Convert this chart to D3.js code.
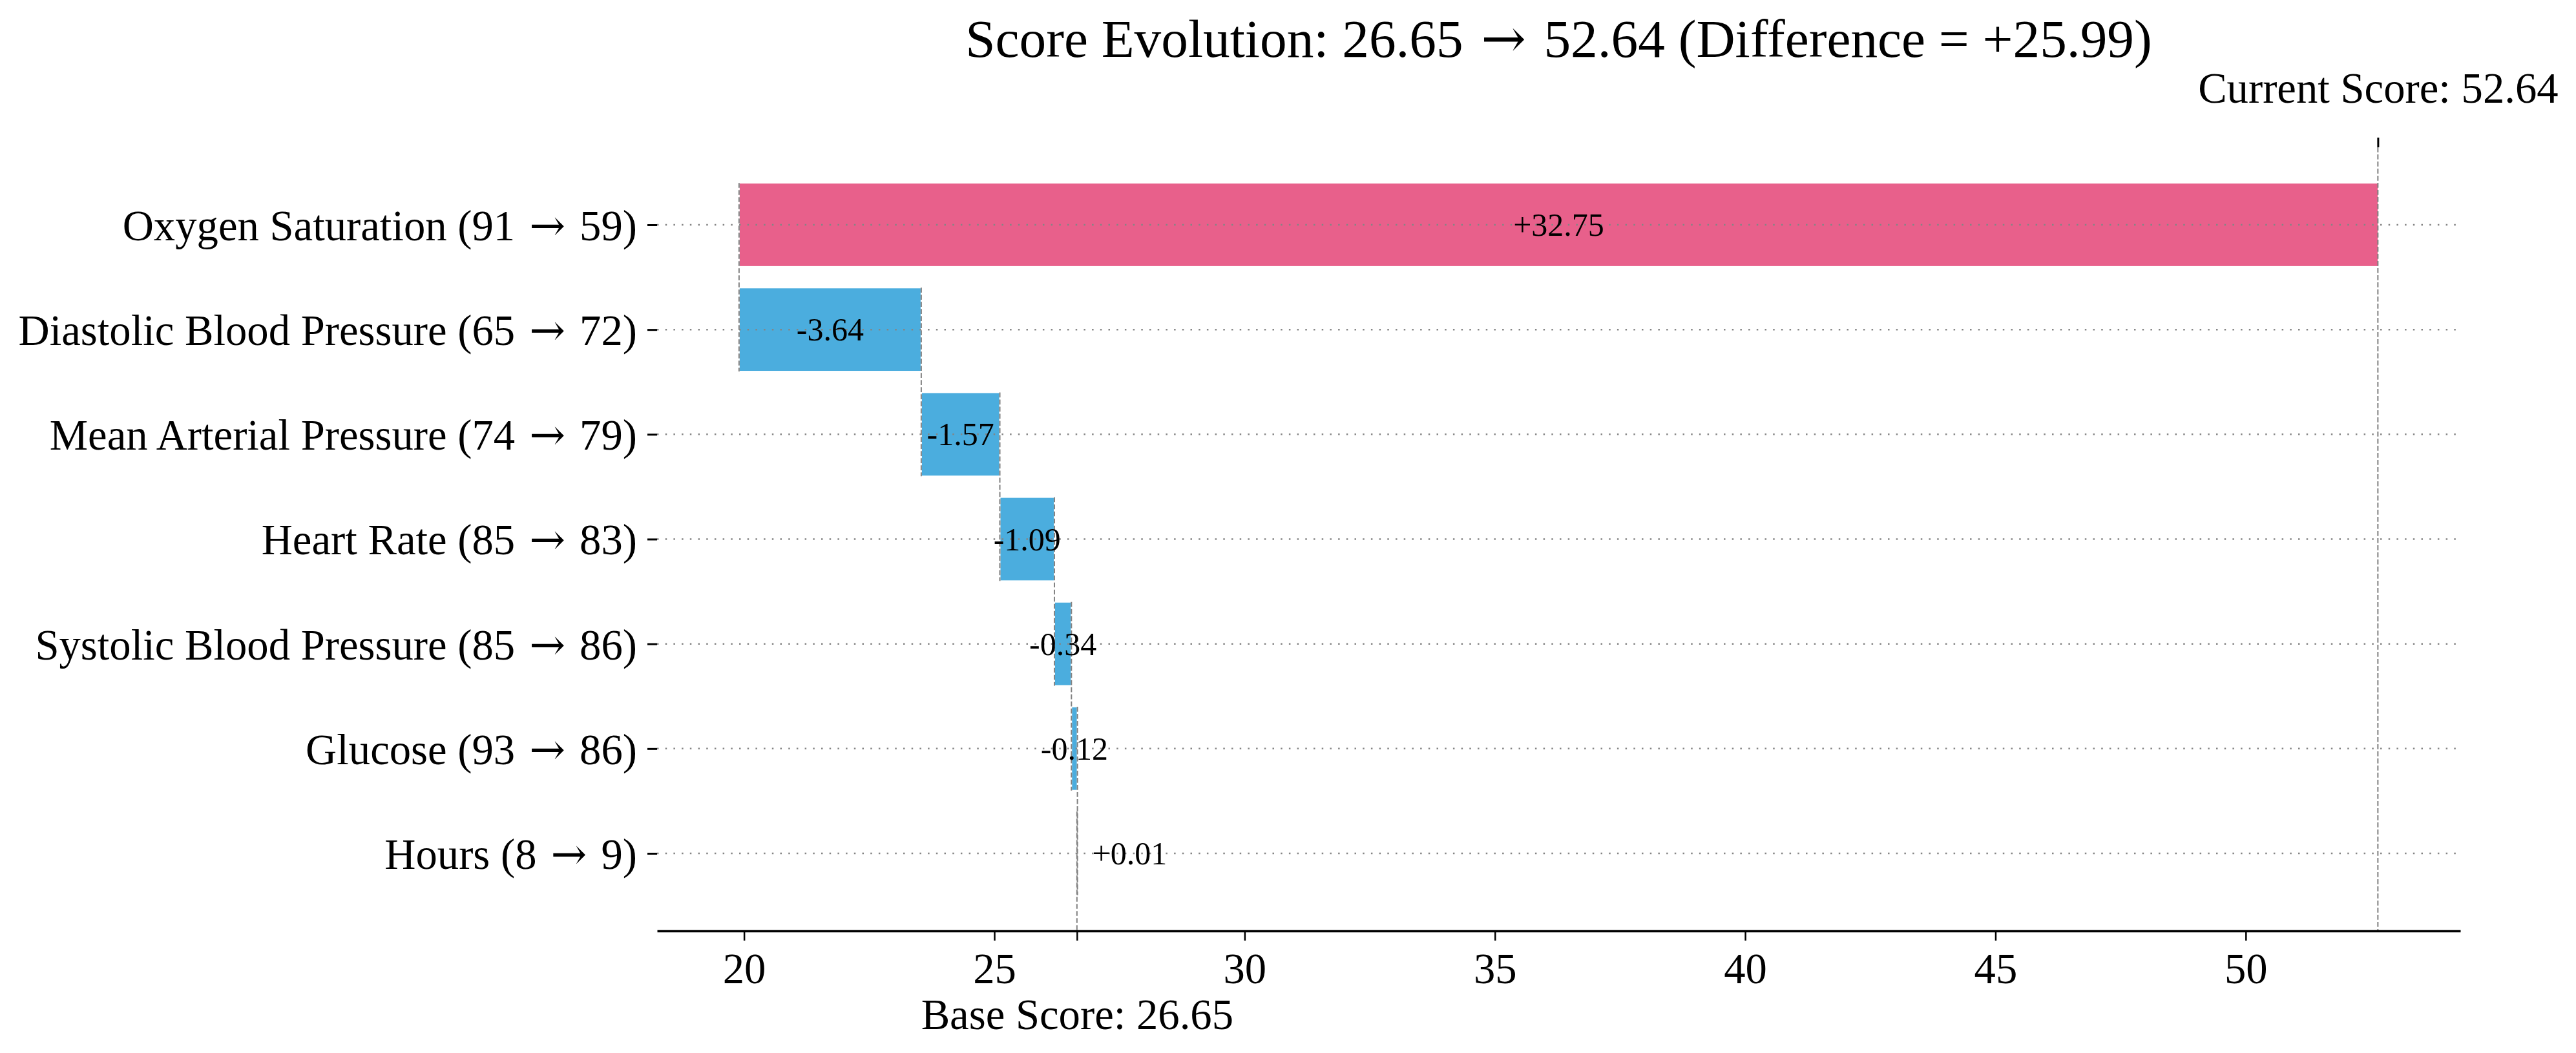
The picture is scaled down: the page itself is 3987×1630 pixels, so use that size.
<!DOCTYPE html>
<html>
<head>
<meta charset="utf-8">
<script src="https://cdn.jsdelivr.net/npm/d3@7"></script>
<style>
  body { margin: 0; background: #fff; }
  svg text { font-family: "Liberation Serif", "Times New Roman", serif; fill: #000; }
  tspan.arrow { font-family: "DejaVu Serif", serif; }
</style>
</head>
<body>
<svg id="chart"></svg>
<script>
// Feature labels, top to bottom
const features = [
  "Oxygen Saturation (91 → 59)",
  "Diastolic Blood Pressure (65 → 72)",
  "Mean Arterial Pressure (74 → 79)",
  "Heart Rate (85 → 83)",
  "Systolic Blood Pressure (85 → 86)",
  "Glucose (93 → 86)",
  "Hours (8 → 9)"
];
// Contribution of each feature to the score
const contributions = [32.75, -3.64, -1.57, -1.09, -0.34, -0.12, 0.01];
const baseScore = 26.65;
const currentScore = 52.64;
const xTickValues = [20, 25, 30, 35, 40, 45, 50];

const width = 3987;
const height = 1630;
const plotLeft = 1017, plotRight = 3808, plotTop = 228, plotBottom = 1441;

const posColor = "#e8608b";
const negColor = "#4badde";

// Put the arrow in its own tspan so it gets a wider glyph
function arrowText(sel, str) {
  sel.text(null);
  const parts = str.split("→");
  parts.forEach((p, k) => {
    const t = sel.append("tspan").text(p);
    if (k > 0) t.attr("dx", "0.08em");
    if (k < parts.length - 1) sel.append("tspan").attr("class", "arrow").attr("dx", "0.08em").text("→");
  });
}

const svg = d3.select("#chart")
  .attr("width", width)
  .attr("height", height);

svg.append("rect").attr("width", width).attr("height", height).attr("fill", "#fff");

// Running total, built from the bottom row (base score) upwards
const n = features.length;
const starts = new Array(n);
const ends = new Array(n);
let running = baseScore;
for (let i = n - 1; i >= 0; i--) {
  starts[i] = running;
  running += contributions[i];
  ends[i] = running;
}

// Scales, with 5% padding like matplotlib
const all = starts.concat(ends);
const lo = d3.min(all), hi = d3.max(all);
const padX = (hi - lo) * 0.05;
const x = d3.scaleLinear().domain([lo - padX, hi + padX]).range([plotLeft, plotRight]);

const padY = ((n - 1) + 0.8) * 0.05;
const y = d3.scaleLinear().domain([-0.4 - padY, n - 1 + 0.4 + padY]).range([plotTop, plotBottom]);

// Bars
svg.append("g")
  .selectAll("rect")
  .data(features)
  .enter()
  .append("rect")
  .attr("x", (d, i) => x(Math.min(starts[i], ends[i])))
  .attr("width", (d, i) => Math.abs(x(ends[i]) - x(starts[i])))
  .attr("y", (d, i) => y(i - 0.4))
  .attr("height", (d, i) => y(i + 0.4) - y(i - 0.4))
  .attr("fill", (d, i) => contributions[i] >= 0 ? posColor : negColor)
  .attr("stroke", "#fff")
  .attr("stroke-width", 2);

// Dotted row grid
svg.append("g")
  .selectAll("line")
  .data(features)
  .enter()
  .append("line")
  .attr("x1", plotLeft)
  .attr("x2", plotRight)
  .attr("y1", (d, i) => y(i))
  .attr("y2", (d, i) => y(i))
  .attr("stroke", "#858585")
  .attr("stroke-width", 2.5)
  .attr("stroke-dasharray", "2.5,10.2");

// Dashed connectors between bars
const conn = svg.append("g")
  .attr("stroke", "#808080")
  .attr("stroke-width", 2)
  .attr("stroke-dasharray", "7.7,3.3");

for (let i = 0; i < n - 1; i++) {
  conn.append("line")
    .attr("x1", x(starts[i])).attr("x2", x(starts[i]))
    .attr("y1", y(i - 0.4)).attr("y2", y(i + 1 + 0.4));
}
// base score line down to the axis
conn.append("line")
  .attr("x1", x(baseScore)).attr("x2", x(baseScore))
  .attr("y1", y(n - 1 - 0.4)).attr("y2", plotBottom);
// current score line over the full height
conn.append("line")
  .attr("x1", x(currentScore)).attr("x2", x(currentScore))
  .attr("y1", plotTop).attr("y2", plotBottom);

// Value labels
svg.append("g")
  .selectAll("text")
  .data(contributions)
  .enter()
  .append("text")
  .attr("x", (d, i) => Math.abs(d) < 0.05 ? x(Math.max(starts[i], ends[i])) + 23 : x((starts[i] + ends[i]) / 2))
  .attr("y", (d, i) => y(i) + 17)
  .attr("text-anchor", d => Math.abs(d) < 0.05 ? "start" : "middle")
  .style("font-size", "50px")
  .text(d => (d >= 0 ? "+" : "") + d.toFixed(2));

// Bottom axis
const xAxis = svg.append("g")
  .attr("transform", `translate(0,${plotBottom})`)
  .call(d3.axisBottom(x).tickValues(xTickValues).tickSize(15).tickSizeOuter(0).tickPadding(19));
xAxis.select(".domain").attr("stroke", "#000").attr("stroke-width", 3.5);
xAxis.selectAll(".tick line").attr("stroke-width", 2.5);
xAxis.selectAll("text").style("font-size", "66.7px").attr("font-family", null);

// Base score tick (bottom twin)
const baseAxis = svg.append("g")
  .attr("transform", `translate(0,${plotBottom})`)
  .call(d3.axisBottom(x).tickValues([baseScore]).tickSize(15).tickPadding(90)
    .tickFormat(d => "Base Score: " + d.toFixed(2)));
baseAxis.select(".domain").remove();
baseAxis.selectAll(".tick line").attr("stroke-width", 2.5);
baseAxis.selectAll("text").style("font-size", "66.7px").attr("font-family", null);

// Current score tick (top twin)
const topAxis = svg.append("g")
  .attr("transform", `translate(0,${plotTop})`)
  .call(d3.axisTop(x).tickValues([currentScore]).tickSize(15).tickPadding(54)
    .tickFormat(d => "Current Score: " + d.toFixed(2)));
topAxis.select(".domain").remove();
topAxis.selectAll(".tick line").attr("stroke-width", 3);
topAxis.selectAll("text").style("font-size", "66.7px").attr("font-family", null);

// Feature axis
const yAxis = svg.append("g")
  .attr("transform", `translate(${plotLeft},0)`)
  .call(d3.axisLeft(y).tickValues(d3.range(n)).tickSize(15).tickPadding(16)
    .tickFormat(i => features[i]));
yAxis.select(".domain").remove();
yAxis.selectAll(".tick line").attr("stroke-width", 3);
yAxis.selectAll("text")
  .style("font-size", "66.7px")
  .attr("dy", "0.35em")
  .attr("font-family", null)
  .each(function(i) { arrowText(d3.select(this), features[i]); });

// Title
svg.append("text")
  .attr("x", (plotLeft + plotRight) / 2)
  .attr("y", 88)
  .attr("text-anchor", "middle")
  .style("font-size", "83.3px")
  .call(arrowText, `Score Evolution: ${baseScore.toFixed(2)} → ${currentScore.toFixed(2)} (Difference = +${(currentScore - baseScore).toFixed(2)})`);
</script>
</body>
</html>
